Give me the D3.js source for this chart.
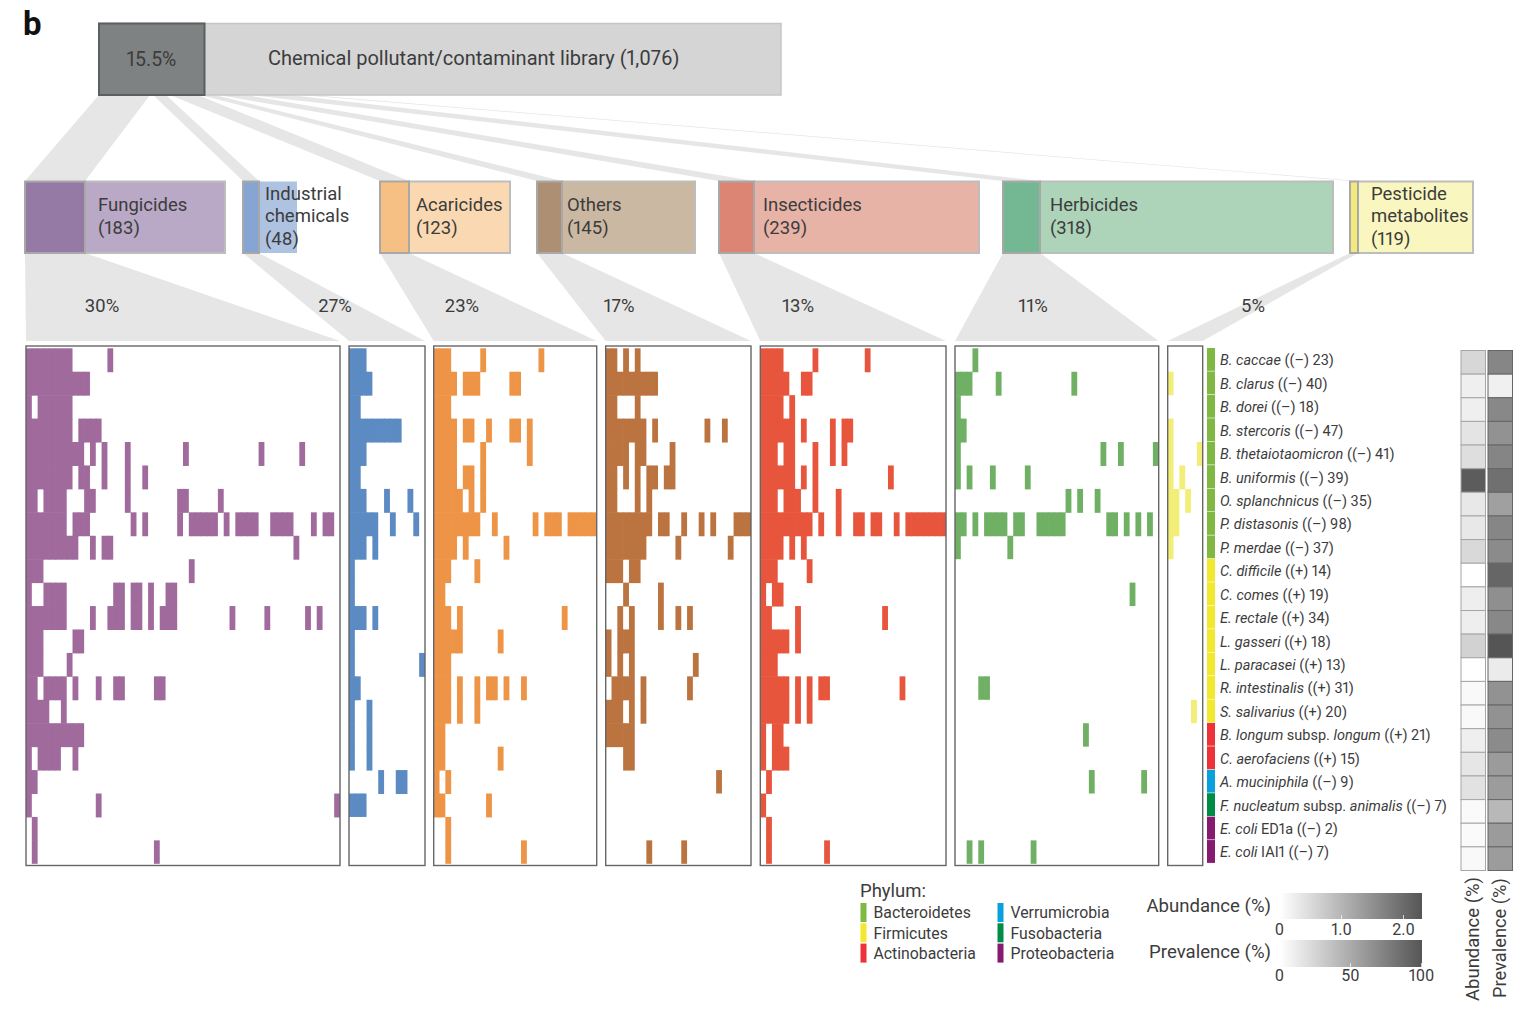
<!DOCTYPE html>
<html><head><meta charset="utf-8">
<script src="https://cdn.jsdelivr.net/npm/d3@7/dist/d3.min.js"></script>
<style>html,body{margin:0;padding:0;background:#fff}svg{display:block}text{font-family:Roboto,sans-serif;fill:#3c3c3c;font-variant-numeric:proportional-nums}</style>
</head><body><svg id="c" width="1534" height="1013"></svg>
<script>
const species=["*B. caccae* ((–) 23)","*B. clarus* ((–) 40)","*B. dorei* ((–) 18)","*B. stercoris* ((–) 47)","*B. thetaiotaomicron* ((–) 41)","*B. uniformis* ((–) 39)","*O. splanchnicus* ((–) 35)","*P. distasonis* ((–) 98)","*P. merdae* ((–) 37)","*C. difficile* ((+) 14)","*C. comes* ((+) 19)","*E. rectale* ((+) 34)","*L. gasseri* ((+) 18)","*L. paracasei* ((+) 13)","*R. intestinalis* ((+) 31)","*S. salivarius* ((+) 20)","*B. longum* subsp. *longum* ((+) 21)","*C. aerofaciens* ((+) 15)","*A. muciniphila* ((–) 9)","*F. nucleatum* subsp. *animalis* ((–) 7)","*E. coli* ED1a ((–) 2)","*E. coli* IAI1 ((–) 7)"];
const speciesPhylum=[0,0,0,0,0,0,0,0,0,1,1,1,1,1,1,1,2,2,3,4,5,5];
const phyla=["Bacteroidetes","Firmicutes","Actinobacteria","Verrumicrobia","Fusobacteria","Proteobacteria"];
const phylumColors=["#7fb842","#f1e82f","#ee3338","#0aa0dc","#008c45","#861a6e"];
const abundance=[.54,.22,.22,.37,.45,2.2,.31,.31,.51,0,.23,.23,.61,0,.08,.08,.22,.34,.39,.07,.07,.08];
const prevalence=[71,9,70,64,72,84,56,71,68,90,66,70,100,12,64,64,68,59,58,42,59,58];
const panelNames=["Fungicides","Industrial chemicals","Acaricides","Others","Insecticides","Herbicides","Pesticide metabolites"];
const panelPercents=["30%","27%","23%","17%","13%","11%","5%"];
const panelColumns=[54,13,28,25,32,35,6];
const panelColors=["#a06a9c","#5b8bc2","#ee9446","#bb7440","#e8553d","#6fb065","#f3ee78"];
const fungicides=[[0,1,2,3,4,5,6,7,14],[0,1,2,3,4,5,6,7,8,9,10],[0,2,3,4,5,6,7],[0,1,2,3,4,5,6,7,9,10,11,12],[0,1,2,3,4,5,6,7,8,9,11,13,17,27,40,47],[0,1,2,3,4,5,6,7,9,10,13,17,20],[0,1,3,4,5,6,10,11,17,26,27,33],[0,1,2,3,4,5,6,8,9,10,18,20,26,28,29,30,31,32,34,36,37,38,39,42,43,44,45,49,51,52],[0,1,2,3,4,5,6,7,8,11,13,14,46],[0,1,2,28],[0,3,4,5,6,15,16,18,19,21,24,25],[0,1,2,3,4,5,6,11,14,15,16,18,19,21,23,24,25,35,41,48,50],[0,1,2,8,9],[0,1,2,7],[0,1,3,4,5,6,8,12,15,16,22,23],[0,1,2,3,6],[0,1,2,3,4,5,6,7,8,9],[0,2,3,4,5,8],[0,1],[0,12,53],[1],[1,22]];
const industrial=[[0,1,2],[0,1,2,3],[0,1],[0,1,2,3,4,5,6,7,8],[0,1,2],[0,1],[0,1,2,6,10],[0,1,2,3,4,7,11],[0,1,2,4],[0],[0],[0,1,2,4],[0],[0,12],[0,1],[0,3],[0,3],[0,3],[5,8,9],[0,1,2],[],[]];
const acaricides=[[0,1,2,8,18],[0,1,2,3,5,6,7,13,14],[0,1,2],[0,1,2,3,5,6,9,13,14,16],[0,1,2,3,8,16],[0,1,2,3,5,6,8],[0,1,2,3,4,6,8],[0,1,2,3,4,5,6,7,10,17,19,20,21,23,24,25,26,27],[0,1,2,3,5,12],[0,1,2,7],[0,1],[0,1,2,4,22],[0,1,2,3,4,11],[0,1,2],[0,1,2,4,7,9,10,12,15],[0,1,2,4,7],[0,1],[0,1,11],[0,2],[0,1,9],[2],[2,15]];
const others=[[0,1,3,5],[0,1,2,3,4,5,6,7,8],[0,1,5],[0,1,2,3,4,5,6,8,17,20],[0,1,2,3,5,6,11],[0,1,3,5,7,8,10,11],[0,1,5,7],[0,1,2,3,4,5,6,7,9,10,13,16,18,22,23,24],[0,1,2,3,4,5,6,12,21],[0,1,2,4,5],[3,9],[2,4,9,12,14],[0,2,3,4],[0,2,4,15],[1,2,3,4,6,14],[0,1,2,4,6],[0,1,2,3,4],[3,4],[19],[],[],[7,13]];
const insecticides=[[0,1,2,3,9,18],[0,1,2,3,4,7,8],[0,1,2,3,5],[0,1,2,3,4,5,7,12,14,15],[0,1,2,4,5,9,12,14],[0,1,2,3,4,5,7,9,22],[0,1,2,4,5,6,9,13],[0,1,2,3,4,5,6,7,8,10,13,16,17,19,20,23,25,26,27,28,29,30,31],[0,1,2,3,5,7],[0,1,2,8],[0,2,3],[0,1,6,21],[0,1,2,3,4,6],[0,1,2],[0,1,2,3,4,6,8,10,11,24],[0,1,2,3,4,6,8],[0,2,3],[0,2,3,4],[1],[0],[1],[1,11]];
const herbicides=[[3],[0,1,2,7,20],[0],[0,1],[0,25,28,34],[0,2,6,12],[19,21,24],[0,1,3,5,6,7,8,10,11,14,15,16,17,18,26,27,29,31,33],[0,9],[],[30],[],[],[],[4,5],[],[22],[],[23,32],[],[],[2,4,13]];
const metabolites=[[],[0],[],[0],[0,5],[0,2],[0,1,3],[0,1],[0],[],[],[],[],[],[],[4],[],[],[],[],[],[]];
const panelCells=[fungicides,industrial,acaricides,others,insecticides,herbicides,metabolites];
const libraryLabel="Chemical pollutant/contaminant library (1,076)";
const libraryShare="15.5%";
const boxLabels=[["Fungicides","(183)"],["Industrial","chemicals","(48)"],["Acaricides","(123)"],["Others","(145)"],["Insecticides","(239)"],["Herbicides","(318)"],["Pesticide","metabolites","(119)"]];
const boxFillLight=["#b9a8c6","#aec3e1","#fad9b2","#cbb8a2","#e8b3a7","#add3b9","#f9f7bf"];
const boxFillDark=["#947aa4","#86a5d2","#f6c084","#ad9073","#dc8574","#74b893","#f3ea7e"];
// layout
const panelX=[[26,340],[349,425],[433.7,596.7],[605.7,751],[760.3,946],[955,1158.7],[1167.7,1202.7]];
const boxX=[[25,85,225],[243,259,297],[380,409,510],[537,562,695],[719,754,979],[1003,1040,1333],[1350,1358,1473]];
const topFan=[[99,150],[153,166],[170,198],[200,215],[218,245],[250,290],[300,310]];
const boxTextX=[98,265,416,567,763,1050,1371];
const pctX=[102,335,462,619,798,1033,1253];

const svg=d3.select("#c");
const rowScale=d3.scaleBand().domain(d3.range(species.length)).range([348.3,863.8]);
const sideRow=d3.scaleBand().domain(d3.range(species.length)).range([350.5,870.5]);
const fan="#e6e6e6";
const poly=(a,b,c,d,yt,yb)=>`M${a},${yt}L${b},${yt}L${d},${yb}L${c},${yb}Z`;
panelNames.forEach((n,i)=>{
  svg.append("path").attr("d",poly(topFan[i][0],topFan[i][1],boxX[i][0],boxX[i][1],95,181)).attr("fill",fan);
  svg.append("path").attr("d",poly(boxX[i][0],boxX[i][1],panelX[i][0],panelX[i][1],253,341)).attr("fill",fan);
});
// library box
svg.append("rect").attr("x",99).attr("y",23.5).attr("width",682).attr("height",71.5).attr("fill","#d5d5d5").attr("stroke","#c6c6c6").attr("stroke-width",1.5);
svg.append("rect").attr("x",99).attr("y",23.5).attr("width",105.5).attr("height",71.5).attr("fill","#7f8282").attr("stroke","#5b5f5f").attr("stroke-width",2);
svg.append("text").attr("x",151.5).attr("y",66).attr("text-anchor","middle").attr("font-size",19.5).text(libraryShare);
svg.append("text").attr("x",268).attr("y",64.5).attr("font-size",20).text(libraryLabel);
svg.append("text").attr("x",23).attr("y",35).attr("font-size",33).attr("font-weight",700).style("fill","#111").text("b");
// category boxes
panelNames.forEach((n,i)=>{
  const [a,b,c]=boxX[i];
  svg.append("rect").attr("x",b).attr("y",181.5).attr("width",c-b).attr("height",71.5).attr("fill",boxFillLight[i]).attr("stroke",i==1?"none":"#bdbdbd").attr("stroke-width",2);
  svg.append("rect").attr("x",a).attr("y",181.5).attr("width",b-a).attr("height",71.5).attr("fill",boxFillDark[i]).attr("stroke","#a8a8a8").attr("stroke-width",2);
  const lines=boxLabels[i], y0=lines.length==3?199.5:211;
  lines.forEach((t,k)=>svg.append("text").attr("x",boxTextX[i]).attr("y",y0+k*22.7).attr("font-size",18.5).text(t));
  svg.append("text").attr("x",pctX[i]).attr("y",312).attr("text-anchor","middle").attr("font-size",18.5).text(panelPercents[i]);
});
// heat panels
panelCells.forEach((rows,i)=>{
  const col=d3.scaleBand().domain(d3.range(panelColumns[i])).range(panelX[i]);
  const g=svg.append("g");
  rows.forEach((cols,r)=>{
    g.selectAll(null).data(cols).join("rect")
      .attr("x",d=>col(d)).attr("y",rowScale(r))
      .attr("width",d=>col.bandwidth()+(cols.includes(d+1)?.7:0))
      .attr("height",rowScale.bandwidth()+(r<rows.length-1&&rows[r+1].length?.5:0))
      .attr("fill",panelColors[i]);
  });
  svg.append("rect").attr("x",panelX[i][0]).attr("y",346).attr("width",panelX[i][1]-panelX[i][0]).attr("height",519.5).attr("fill","none").attr("stroke","#666").attr("stroke-width",1.4);
});
// phylum strip + labels
species.forEach((s,r)=>{
  svg.append("rect").attr("x",1207).attr("y",rowScale(r)-.3).attr("width",8).attr("height",rowScale.bandwidth()-.6).attr("fill",phylumColors[speciesPhylum[r]]);
  const t=svg.append("text").attr("x",1220).attr("y",rowScale(r)+rowScale.bandwidth()/2+5.4).attr("font-size",14.5);
  s.split("*").forEach((p,k)=>{if(p)t.append("tspan").attr("font-style",k%2?"italic":"normal").text(p);});
});
// side heat columns
const grey=(max)=>d3.scaleLinear().domain([0,max]).range(["#ffffff","#555555"]);
const abScale=grey(2.3), prScale=grey(100);
sideRow.domain().forEach(r=>{
  svg.append("rect").attr("x",1461).attr("y",sideRow(r)).attr("width",24.5).attr("height",sideRow.bandwidth()).attr("fill",abScale(abundance[r])).attr("stroke","#a6a6a6").attr("stroke-width",1);
  svg.append("rect").attr("x",1488).attr("y",sideRow(r)).attr("width",24.5).attr("height",sideRow.bandwidth()).attr("fill",prScale(prevalence[r])).attr("stroke","#666").attr("stroke-width",1);
});
svg.append("text").attr("transform","translate(1479,1001) rotate(-90)").attr("font-size",18.5).text("Abundance (%)");
svg.append("text").attr("transform","translate(1506,998) rotate(-90)").attr("font-size",18.3).text("Prevalence (%)");
// phylum legend
svg.append("text").attr("x",860).attr("y",896.5).attr("font-size",18.5).text("Phylum:");
phyla.forEach((p,i)=>{
  const cx=i<3?860.5:997.5, y=903+(i%3)*20.3;
  svg.append("rect").attr("x",cx).attr("y",y).attr("width",6).attr("height",19).attr("fill",phylumColors[i]);
  svg.append("text").attr("x",cx+13).attr("y",y+15.3).attr("font-size",15.8).text(p);
});
// colour bars
const defs=svg.append("defs");
const lg=defs.append("linearGradient").attr("id","gb");
lg.append("stop").attr("offset","0").attr("stop-color","#ffffff");
lg.append("stop").attr("offset","1").attr("stop-color","#555555");
function bar(label,y,h,ly,scaleX,ticks,fmt,tickY){
  svg.append("rect").attr("x",1280).attr("y",y).attr("width",142).attr("height",h).attr("fill","url(#gb)");
  svg.append("text").attr("x",1271).attr("y",ly).attr("text-anchor","end").attr("font-size",18.6).text(label);
  const ax=svg.append("g").attr("transform",`translate(0,${y+h})`).call(d3.axisBottom(scaleX).tickValues(ticks).tickFormat(fmt).tickSize(-4).tickPadding(tickY));
  ax.select(".domain").remove();
  ax.selectAll("line").attr("stroke","#fff").attr("stroke-opacity",.7);
  ax.selectAll("text").attr("font-size",16).attr("font-family","Roboto,sans-serif").style("fill","#3c3c3c");
}
bar("Abundance (%)",893,26,912,d3.scaleLinear().domain([0,2]).range([1279,1403]),[0,1,2],d=>d?d.toFixed(1):"0",5);
bar("Prevalence (%)",940,27,958,d3.scaleLinear().domain([0,100]).range([1279,1421]),[0,50,100],d=>d,3);
</script></body></html>
